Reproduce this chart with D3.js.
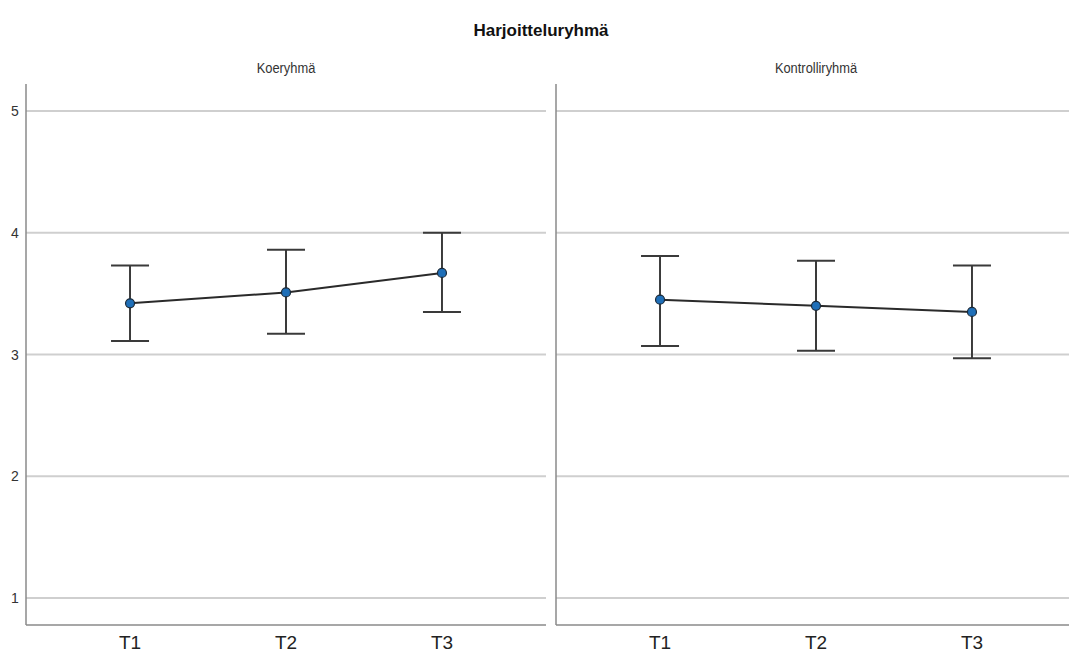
<!DOCTYPE html>
<html>
<head>
<meta charset="utf-8">
<script src="https://cdn.jsdelivr.net/npm/d3@7"></script>
<style>
  body { margin: 0; background: #fff; }
  svg { display: block; font-family: Arial, 'Liberation Sans', sans-serif; }
</style>
</head>
<body>
<div id="chart"></div>
<script>
// Mean plot with error bars, two facets (Koeryhmä / Kontrolliryhmä)
var title = 'Harjoitteluryhmä';
var panels = ['Koeryhmä', 'Kontrolliryhmä'];
var times = ['T1', 'T2', 'T3'];
var yTicks = [1, 2, 3, 4, 5];

var koeMean  = [3.42, 3.51, 3.67];
var koeLow   = [3.11, 3.17, 3.35];
var koeHigh  = [3.73, 3.86, 4.00];

var kontMean = [3.45, 3.40, 3.35];
var kontLow  = [3.07, 3.03, 2.97];
var kontHigh = [3.81, 3.77, 3.73];

var series = [
    { mean: koeMean, low: koeLow, high: koeHigh },
    { mean: kontMean, low: kontLow, high: kontHigh }
];

(function () {
    var W = 1069, H = 652;
    var top = 84, bottom = 625;
    // second panel runs past the window edge
    var panelX = [[26, 546], [556, 1076]];

    var svg = d3.select('#chart').append('svg')
        .attr('width', W).attr('height', H);

    var y = d3.scaleLinear().domain([1, 5]).range([598, 111]);

    svg.append('text')
        .attr('x', 541).attr('y', 36)
        .attr('text-anchor', 'middle')
        .attr('font-size', 17).attr('font-weight', 'bold')
        .attr('fill', '#111')
        .text(title);

    panels.forEach(function (name, i) {
        var x0 = panelX[i][0], x1 = panelX[i][1];
        var x = d3.scalePoint().domain(times).range([x0, x1]).padding(0.667);
        var d = series[i];
        var g = svg.append('g');

        g.append('text')
            .attr('x', x(times[1])).attr('y', 73)
            .attr('text-anchor', 'middle')
            .attr('font-size', 14).attr('fill', '#333')
            .attr('transform', 'translate(' + x(times[1]) + ',0) scale(0.92,1) translate(' + (-x(times[1])) + ',0)')
            .text(name);

        // gridlines
        g.selectAll('line.grid').data(yTicks).join('line')
            .attr('class', 'grid')
            .attr('x1', x0).attr('x2', x1)
            .attr('y1', function (v) { return y(v); })
            .attr('y2', function (v) { return y(v); })
            .attr('stroke', '#cfcfcf').attr('stroke-width', 2);

        // frame: left and bottom
        g.append('line')
            .attr('x1', x0).attr('x2', x0).attr('y1', top).attr('y2', bottom)
            .attr('stroke', '#8a8a8a').attr('stroke-width', 1.5);
        g.append('line')
            .attr('x1', x0).attr('x2', x1).attr('y1', bottom).attr('y2', bottom)
            .attr('stroke', '#8a8a8a').attr('stroke-width', 1.5);

        if (i === 0) {
            g.selectAll('text.yt').data(yTicks).join('text')
                .attr('class', 'yt')
                .attr('x', 15).attr('y', function (v) { return y(v) + 5; })
                .attr('text-anchor', 'middle')
                .attr('font-size', 14).attr('fill', '#333')
                .text(function (v) { return v; });
        }

        g.selectAll('text.xt').data(times).join('text')
            .attr('class', 'xt')
            .attr('x', function (t) { return x(t); }).attr('y', 649)
            .attr('text-anchor', 'middle')
            .attr('font-size', 19).attr('fill', '#222')
            .text(function (t) { return t; });

        // error bars
        var capW = 19;
        times.forEach(function (t, j) {
            var cx = x(t);
            g.append('line')
                .attr('x1', cx).attr('x2', cx)
                .attr('y1', y(d.low[j])).attr('y2', y(d.high[j]))
                .attr('stroke', '#3a3a3a').attr('stroke-width', 2);
            [d.low[j], d.high[j]].forEach(function (v) {
                g.append('line')
                    .attr('x1', cx - capW).attr('x2', cx + capW)
                    .attr('y1', y(v)).attr('y2', y(v))
                    .attr('stroke', '#3a3a3a').attr('stroke-width', 2);
            });
        });

        var line = d3.line()
            .x(function (v, j) { return x(times[j]); })
            .y(function (v) { return y(v); });
        g.append('path').datum(d.mean)
            .attr('d', line)
            .attr('fill', 'none')
            .attr('stroke', '#2a2a2a').attr('stroke-width', 2);

        g.selectAll('circle').data(d.mean).join('circle')
            .attr('cx', function (v, j) { return x(times[j]); })
            .attr('cy', function (v) { return y(v); })
            .attr('r', 4.5)
            .attr('fill', '#1f6fb8')
            .attr('stroke', '#1a2a3a').attr('stroke-width', 1.2);
    });
})();
</script>
</body>
</html>
